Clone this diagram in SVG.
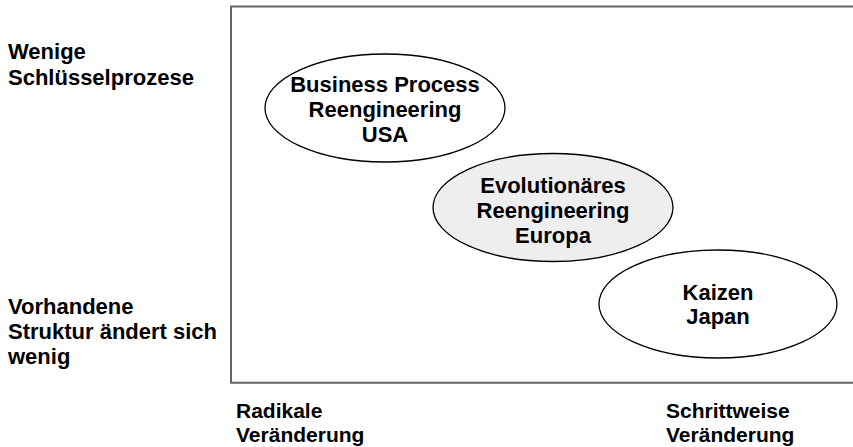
<svg xmlns="http://www.w3.org/2000/svg" width="853" height="447" viewBox="0 0 853 447">
<style>
text{font-family:"Liberation Sans",Arial,sans-serif;font-weight:bold;font-size:22px;fill:#000}
.c{text-anchor:middle}
.b{font-size:21px}
.el{stroke:#000;stroke-width:1.3;fill:#fff}
.grey{fill:#eeeeee}
</style>
<rect width="853" height="447" fill="#fff"/>
<g id="frame">
<path d="M860,6.5 H231 V382.7 H860" fill="none" stroke="#666" stroke-width="2"/>
</g>
<g id="axis-labels">
<text x="8" y="59">Wenige</text>
<text x="8" y="85">Schlüsselprozese</text>
<text x="8" y="314">Vorhandene</text>
<text x="8" y="339">Struktur ändert sich</text>
<text x="8" y="364">wenig</text>
<text class="b" x="236" y="418">Radikale</text>
<text class="b" x="236" y="442">Veränderung</text>
<text class="b" x="666" y="418">Schrittweise</text>
<text class="b" x="666" y="442">Veränderung</text>
</g>
<g id="bpr">
<ellipse class="el" cx="385" cy="108" rx="120" ry="54"/>
<text class="c" x="385" y="92">Business Process</text>
<text class="c" x="385" y="117">Reengineering</text>
<text class="c" x="385" y="142">USA</text>
</g>
<g id="evo">
<ellipse class="el grey" cx="553" cy="207.5" rx="120" ry="54"/>
<text class="c" x="553" y="193">Evolutionäres</text>
<text class="c" x="553" y="218">Reengineering</text>
<text class="c" x="553" y="243">Europa</text>
</g>
<g id="kaizen">
<ellipse class="el" cx="718" cy="304" rx="119" ry="54"/>
<text class="c" x="718" y="300">Kaizen</text>
<text class="c" x="718" y="324">Japan</text>
</g>
<g id="connectors"></g>
</svg>
